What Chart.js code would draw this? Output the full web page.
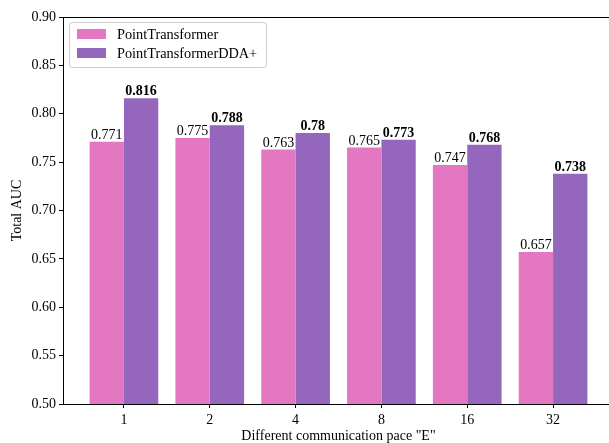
<!DOCTYPE html>
<html>
<head>
<meta charset="utf-8">
<script src="https://cdn.jsdelivr.net/npm/chart.js@4/dist/chart.umd.min.js"></script>
<style>
  html, body { margin: 0; padding: 0; background: #fff; overflow: hidden; }
  #wrap { width: 615px; height: 443px; }
</style>
</head>
<body>
<div id="wrap"><canvas id="grafico"></canvas></div>
<script>
// ======= Dados =======
const categorias = ["1", "2", "4", "8", "16", "32"];
const serieNomes = ["PointTransformer", "PointTransformerDDA+"];
const valoresPT = [0.771, 0.775, 0.763, 0.765, 0.747, 0.657];
const valoresDDA = [0.816, 0.788, 0.78, 0.773, 0.768, 0.738];
const rotulosPT = ["0.771", "0.775", "0.763", "0.765", "0.747", "0.657"];
const rotulosDDA = ["0.816", "0.788", "0.78", "0.773", "0.768", "0.738"];
const yTicks = [0.50, 0.55, 0.60, 0.65, 0.70, 0.75, 0.80, 0.85, 0.90];

const cores = ["#e377c2", "#9467bd"];
const fonte = "'Liberation Serif', 'Times New Roman', serif";

// ======= Plugins =======
const moldura = {
  id: "moldura",
  afterDatasetsDraw(chart) {
    const { ctx, chartArea: a } = chart;
    ctx.save();
    ctx.strokeStyle = "#000";
    ctx.lineWidth = 1;
    ctx.strokeRect(a.left + 0.5, a.top + 0.5, a.right - a.left, a.bottom - a.top);
    ctx.restore();
  }
};

const rotulos = {
  id: "rotulos",
  afterDatasetsDraw(chart) {
    const { ctx } = chart;
    const textos = [rotulosPT, rotulosDDA];
    ctx.save();
    ctx.fillStyle = "#000";
    ctx.textAlign = "center";
    ctx.textBaseline = "alphabetic";
    chart.data.datasets.forEach((ds, i) => {
      ctx.font = (i === 1 ? "bold " : "") + "14px " + fonte;
      chart.getDatasetMeta(i).data.forEach((bar, j) => {
        ctx.fillText(textos[i][j], bar.x, bar.y - 3);
      });
    });
    ctx.restore();
  }
};

const legenda = {
  id: "legenda",
  afterDraw(chart) {
    const { ctx, chartArea: a } = chart;
    const x = a.left + 6, y = a.top + 5, w = 197, h = 45;
    ctx.save();
    ctx.fillStyle = "rgba(255,255,255,0.8)";
    ctx.strokeStyle = "#cccccc";
    ctx.lineWidth = 1;
    ctx.beginPath();
    ctx.roundRect(x + 0.5, y + 0.5, w, h, 3);
    ctx.fill();
    ctx.stroke();
    ctx.font = "14.3px " + fonte;
    ctx.textBaseline = "middle";
    ctx.textAlign = "left";
    serieNomes.forEach((nome, i) => {
      const cy = y + 12 + i * 19;
      ctx.fillStyle = cores[i];
      ctx.fillRect(x + 8, cy - 5, 29, 10);
      ctx.fillStyle = "#000";
      ctx.fillText(nome, x + 48, cy + 1);
    });
    ctx.restore();
  }
};

// ======= Gráfico =======
const ctx = document.getElementById("grafico").getContext("2d");
new Chart(ctx, {
  type: "bar",
  data: {
    datasets: [
      { label: serieNomes[0], data: valoresPT.map((v, i) => ({ x: i, y: v })), backgroundColor: cores[0] },
      { label: serieNomes[1], data: valoresDDA.map((v, i) => ({ x: i, y: v })), backgroundColor: cores[1] }
    ]
  },
  options: {
    responsive: true,
    maintainAspectRatio: false,
    animation: false,
    devicePixelRatio: 1,
    datasets: { bar: { categoryPercentage: 0.8, barPercentage: 1.0 } },
    layout: { padding: { top: 17, right: 1, left: 0, bottom: 0 } },
    plugins: { legend: { display: false }, tooltip: { enabled: false } },
    scales: {
      x: {
        type: "linear",
        min: -0.71,
        max: 5.71,
        offset: false,
        grid: { display: true, offset: false, drawOnChartArea: false, drawTicks: true, tickLength: 4, color: "#000" },
        border: { display: false },
        afterBuildTicks: s => { s.ticks = categorias.map((c, i) => ({ value: i })); },
        ticks: {
          autoSkip: false,
          maxRotation: 0,
          padding: 4,
          color: "#000",
          font: { family: fonte, size: 14 },
          callback: v => categorias[v] ?? ""
        },
        title: {
          display: true,
          text: 'Different communication pace "E"',
          color: "#000",
          font: { family: fonte, size: 14 },
          padding: { top: 0, bottom: -2 }
        },
        afterFit: s => { s.height = 39; }
      },
      y: {
        min: 0.5,
        max: 0.9,
        grid: { display: true, drawOnChartArea: false, drawTicks: true, tickLength: 4, color: "#000" },
        border: { display: false },
        afterBuildTicks: s => { s.ticks = yTicks.map(v => ({ value: v })); },
        ticks: {
          padding: 3,
          color: "#000",
          font: { family: fonte, size: 14 },
          callback: v => v.toFixed(2)
        },
        title: {
          display: true,
          text: "Total AUC",
          color: "#000",
          font: { family: fonte, size: 14 },
          padding: { top: 9, bottom: 0 }
        },
        afterFit: s => { s.width = 63; }
      }
    }
  },
  plugins: [moldura, rotulos, legenda]
});
</script>
</body>
</html>
